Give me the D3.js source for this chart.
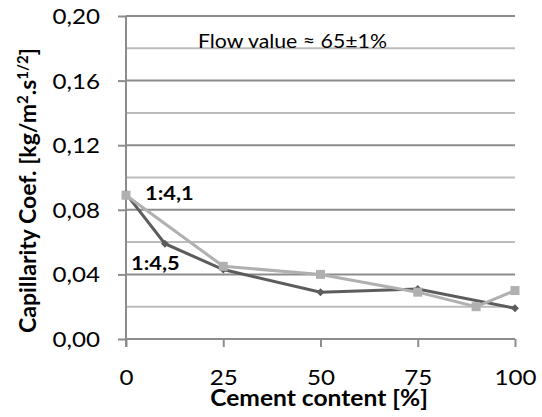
<!DOCTYPE html>
<html>
<head>
<meta charset="utf-8">
<script src="https://cdn.jsdelivr.net/npm/d3@7"></script>
<style>
  html, body { margin: 0; padding: 0; background: #fff; }
  svg { display: block; font-family: Lato, "Open Sans", sans-serif; }
</style>
</head>
<body>
<svg id="chart" width="542" height="417"></svg>
<script>
// Cement content (%) for each mix series
const mixAX = [0, 10, 25, 50, 75, 100];
const mixAValues = [0.090, 0.059, 0.043, 0.029, 0.031, 0.019];   // 1:4,5 (dark, diamonds)
const mixBX = [0, 25, 50, 75, 90, 100];
const mixBValues = [0.089, 0.045, 0.040, 0.029, 0.020, 0.030];   // 1:4,1 (light, squares)

const xTicks = [0, 25, 50, 75, 100];
const yTicks = [0.00, 0.04, 0.08, 0.12, 0.16, 0.20];
const yMinor = [0.02, 0.06, 0.10, 0.14, 0.18];

const svg = d3.select("#chart");
const plot = { left: 126, right: 515, top: 16, bottom: 339 };
const stretch = 1.15;   // text is set slightly wide

const x = d3.scaleLinear().domain([0, 100]).range([plot.left, plot.right]);
const y = d3.scaleLinear().domain([0, 0.20]).range([plot.bottom, plot.top]);
const fmt = d => d3.format(".2f")(d).replace(".", ",");

// place a horizontally stretched text at (px, py)
function wideText(px, py, str, size, weight, anchor, s = stretch) {
  return svg.append("text")
    .attr("transform", `translate(${px},${py}) scale(${s},1)`)
    .attr("font-size", size).attr("font-weight", weight || "normal")
    .attr("text-anchor", anchor || "start").attr("fill", "#000")
    .text(str);
}

// minor gridlines
svg.append("g").selectAll("line").data(yMinor).join("line")
  .attr("x1", plot.left).attr("x2", plot.right)
  .attr("y1", d => y(d)).attr("y2", d => y(d))
  .attr("stroke", "#bcbcbc").attr("stroke-width", 2);

// major gridlines
svg.append("g").selectAll("line").data(yTicks.filter(d => d > 0)).join("line")
  .attr("x1", plot.left).attr("x2", plot.right)
  .attr("y1", d => y(d)).attr("y2", d => y(d))
  .attr("stroke", "#8c8c8c").attr("stroke-width", 2);

// y axis
const yAxis = svg.append("g")
  .attr("transform", `translate(${plot.left},0)`)
  .call(d3.axisLeft(y).tickValues(yTicks).tickFormat(fmt).tickSize(8));
yAxis.select(".domain").attr("stroke", "#8c8c8c").attr("stroke-width", 2)
  .attr("d", `M0,${plot.top}V${plot.bottom + 8}`);
yAxis.selectAll(".tick line").attr("stroke", "#8c8c8c").attr("stroke-width", 2);
yAxis.selectAll(".tick text").attr("font-size", 21).attr("fill", "#000")
  .attr("font-family", "Lato, sans-serif")
  .attr("x", 0).attr("dy", "0.36em")
  .attr("transform", `translate(-26,0) scale(${stretch},1)`);

// x axis
const xAxis = svg.append("g")
  .attr("transform", `translate(0,${plot.bottom})`)
  .call(d3.axisBottom(x).tickValues(xTicks).tickSize(8));
xAxis.select(".domain").attr("stroke", "#8c8c8c").attr("stroke-width", 2)
  .attr("d", `M${plot.left},0H${plot.right}`);
xAxis.selectAll(".tick line").attr("stroke", "#8c8c8c").attr("stroke-width", 2);
xAxis.selectAll(".tick text").attr("font-size", 21).attr("fill", "#000")
  .attr("font-family", "Lato, sans-serif")
  .attr("y", 0).attr("dy", null)
  .attr("transform", `translate(0,46) scale(${stretch},1)`);

// series
const line = d3.line().x(d => x(d[0])).y(d => y(d[1]));
const dataA = mixAX.map((v, i) => [v, mixAValues[i]]);
const dataB = mixBX.map((v, i) => [v, mixBValues[i]]);

svg.append("path").datum(dataA).attr("d", line)
  .attr("fill", "none").attr("stroke", "#5c5c5c").attr("stroke-width", 3);
svg.append("g").selectAll("path").data(dataA).join("path")
  .attr("d", d3.symbol(d3.symbolDiamond2, 40))
  .attr("transform", d => `translate(${x(d[0])},${y(d[1])})`)
  .attr("fill", "#5c5c5c");

svg.append("path").datum(dataB).attr("d", line)
  .attr("fill", "none").attr("stroke", "#b0b0b0").attr("stroke-width", 3);
svg.append("g").selectAll("rect").data(dataB).join("rect")
  .attr("x", d => x(d[0]) - 4.5).attr("y", d => y(d[1]) - 4.5)
  .attr("width", 9).attr("height", 9)
  .attr("fill", "#b0b0b0");

// series labels
wideText(145, 200, "1:4,1", 19, "bold");
wideText(131, 270, "1:4,5", 19, "bold");

// annotation
wideText(198, 48, "Flow value ≈ 65±1%", 18.5, "normal");

// axis titles
wideText(319, 406, "Cement content [%]", 23, "bold", "middle", 1.07);

const yt = svg.append("text")
  .attr("transform", "translate(36,333) rotate(-90)")
  .attr("text-anchor", "start").attr("font-size", 23).attr("font-weight", "bold");
yt.append("tspan").text("Capillarity Coef. [kg/m");
yt.append("tspan").attr("dy", -8).attr("font-size", 15).text("2");
yt.append("tspan").attr("dy", 8).text(".s");
yt.append("tspan").attr("dy", -8).attr("font-size", 15).text("1/2");
yt.append("tspan").attr("dy", 8).text("]");
</script>
</body>
</html>
